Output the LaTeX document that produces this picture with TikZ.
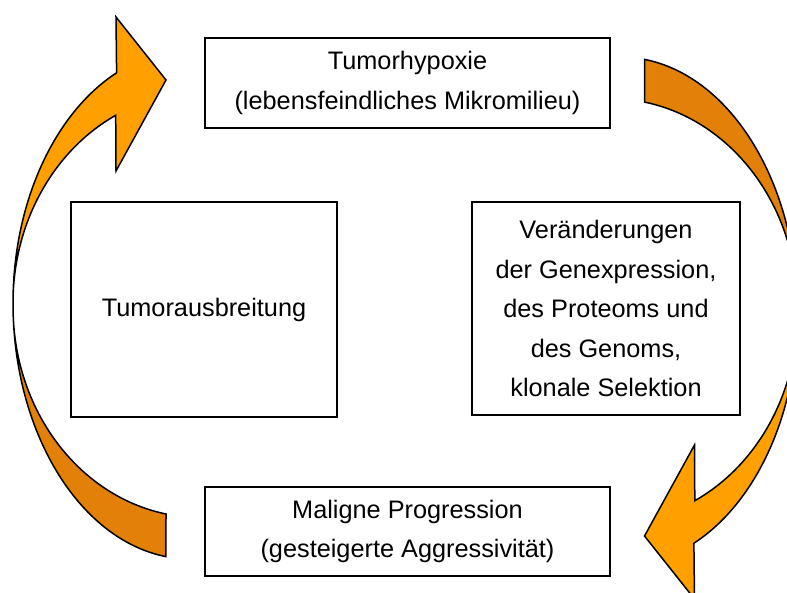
\documentclass[tikz,border=0pt]{standalone}
\usepackage{fontspec}
\setmainfont{Liberation Sans}
\definecolor{hellorange}{RGB}{255,160,0}
\definecolor{dunkelorange}{RGB}{227,128,8}
\begin{document}
\begin{tikzpicture}[x=1pt,y=-1pt,
    kasten/.style={draw,line width=1.5pt,align=center,font=\fontsize{25.3}{39.5}\selectfont},
    pfeil/.style={draw,line width=1.5pt}]
  \useasboundingbox (0,0) rectangle (787,592);
  \clip (0,0) rectangle (787,592);
  \node [kasten,minimum width=405pt,minimum height=90pt] (hypoxie) at (407.5,83) {Tumorhypoxie\\(lebensfeindliches Mikromilieu)};
  \node [kasten,minimum width=266pt,minimum height=215pt] (ausbreitung) at (204,309.5) {Tumorausbreitung};
  \node [kasten,minimum width=268pt,minimum height=213pt] (veraenderung) at (606,308.5) {Veränderungen\\der Genexpression,\\des Proteoms und\\des Genoms,\\klonale Selektion};
  \node [kasten,minimum width=405pt,minimum height=89pt] (progression) at (407.5,531.5) {Maligne Progression\\(gesteigerte Aggressivität)};
  % linker Pfeil
  \draw [pfeil,fill=dunkelorange] (13,303) arc [start angle=180,end angle=97.8,x radius=177,y radius=256]
    -- (166,514) arc [start angle=100.5,end angle=180,x radius=187,y radius=210] -- cycle;
  \draw [pfeil,fill=hellorange] (13,303) arc [start angle=180,end angle=245.5,x radius=177,y radius=253]
    -- (116,17) -- (166,80) -- (116,171) -- (115.7,115.3)
    arc [start angle=243.2,end angle=180,x radius=187,y radius=210] -- cycle;
  % rechter Pfeil
  \draw [pfeil,fill=dunkelorange] (797.5,313) arc [start angle=0,end angle=-82.2,x radius=177,y radius=256]
    -- (644.6,102.1) arc [start angle=-79.5,end angle=0,x radius=187,y radius=210] -- cycle;
  \draw [pfeil,fill=hellorange] (797.5,313) arc [start angle=0,end angle=65.5,x radius=177,y radius=253]
    -- (694.5,599) -- (644.5,536) -- (694.5,445) -- (694.8,500.7)
    arc [start angle=63.2,end angle=0,x radius=187,y radius=210] -- cycle;
\end{tikzpicture}
\end{document}
